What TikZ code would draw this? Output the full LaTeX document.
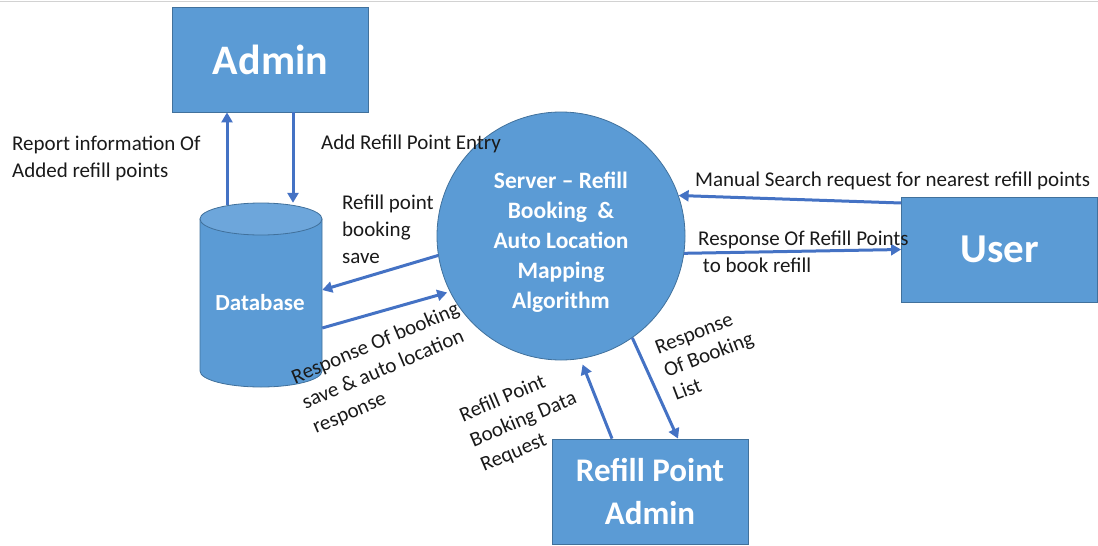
\documentclass[tikz,border=0pt]{standalone}
\usepackage{fontspec}
\setmainfont{Carlito}
\usetikzlibrary{arrows.meta,calc}
\definecolor{boxblue}{HTML}{5B9BD5}
\definecolor{boxedge}{HTML}{41719C}
\definecolor{dbtop}{HTML}{6DA6DB}
\definecolor{arrblue}{HTML}{4472C4}
\definecolor{labtext}{HTML}{1A1A1A}
\begin{document}
\begin{tikzpicture}[x=1pt,y=-1pt,
  entity/.style={draw=boxedge, line width=0.8pt, fill=boxblue, text=white, font=\bfseries, align=center, inner sep=0pt},
  arr/.style={draw=arrblue, line width=3pt, -{Triangle[length=10pt,width=11pt]}, shorten >=0pt},
  lab/.style={font=\fontsize{21}{27}\selectfont, text=labtext, align=left, inner sep=0pt, anchor=base west},
  rlab/.style={lab, rotate=23}]
\useasboundingbox (0,0) rectangle (1098,546);
\draw[gray!35, line width=1pt] (0,1.5) -- (1098,1.5);
% entities
\node[entity, minimum width=196pt, minimum height=105pt, font=\bfseries\fontsize{42}{46}\selectfont] (admin) at (270.5,59.5) {Admin};
\node[entity, minimum width=196pt, minimum height=105pt, font=\bfseries\fontsize{41}{46}\selectfont] (user) at (999.5,249.5) {User};
\node[entity, minimum width=196pt, minimum height=105pt, font=\bfseries\fontsize{33}{43}\selectfont] (radm) at (650,491.5) {Refill Point\\Admin};
\node[entity, circle, minimum size=248pt] (server) at (561,236) {};
\node[text=white, align=center, inner sep=0pt, font=\bfseries\fontsize{23.5}{30}\selectfont] (servertxt) at (561,242) {Server -- Refill\\Booking~ \&\\Auto Location\\Mapping\\Algorithm};
% database cylinder
\node[minimum width=122pt, minimum height=184pt, inner sep=0pt] (db) at (261,295) {};
\filldraw[fill=boxblue, draw=boxedge, line width=0.8pt] (200,219) -- (200,371) arc[start angle=180, end angle=0, x radius=61, y radius=16] -- (322,219) -- cycle;
\filldraw[fill=dbtop, draw=boxedge, line width=0.8pt] (261,219) ellipse[x radius=61, y radius=16];
\node[text=white, font=\bfseries\fontsize{23}{28}\selectfont, inner sep=0pt] (dblab) at (260,303) {Database};
% connectors
\draw[arr] ([xshift=-34pt,yshift=-2pt]db.north) -- ([xshift=-34pt]db.north |- admin.south);
\draw[arr] ([xshift=32pt]db.north |- admin.south) -- ([xshift=32pt]db.north);
\draw[arr] (server.-171.3) -- ([yshift=5pt]db.east);
\draw[arr] ([yshift=-33pt]db.east) -- ([xshift=-2pt,yshift=-2pt]server.206.4);
\draw[arr] ([yshift=46.5pt]user.west) -- (server.19.3);
\draw[arr] (server.-8.4) -- (user.west);
\draw[arr] ([xshift=-38pt]radm.north) -- ([yshift=-6pt]server.-80.8);
\draw[arr] (server.-55.7) -- ([xshift=28pt]radm.north);
% labels (anchor = baseline of the last line)
\node[lab] (l1) at (12,177) {Report information Of\\Added refill points};
\node[lab] (l2) at (321,149) {Add Refill Point Entry};
\node[lab] (l3) at (342,263) {Refill point\\booking\\save};
\node[lab] (l4) at (695,186) {Manual Search request for nearest refill points};
\node[lab] (l5) at (698,272) {Response Of Refill Points\\\ to book refill};
\node[rlab] (l6) at (316,434) {Response Of booking\\save \& auto location\\response};
\node[rlab] (l7) at (484,472) {Refill Point\\Booking Data\\Request};
\node[lab, rotate=21, font=\fontsize{21}{25}\selectfont] (l8) at (676,401) {Response\\Of Booking\\List};
\end{tikzpicture}
\end{document}
